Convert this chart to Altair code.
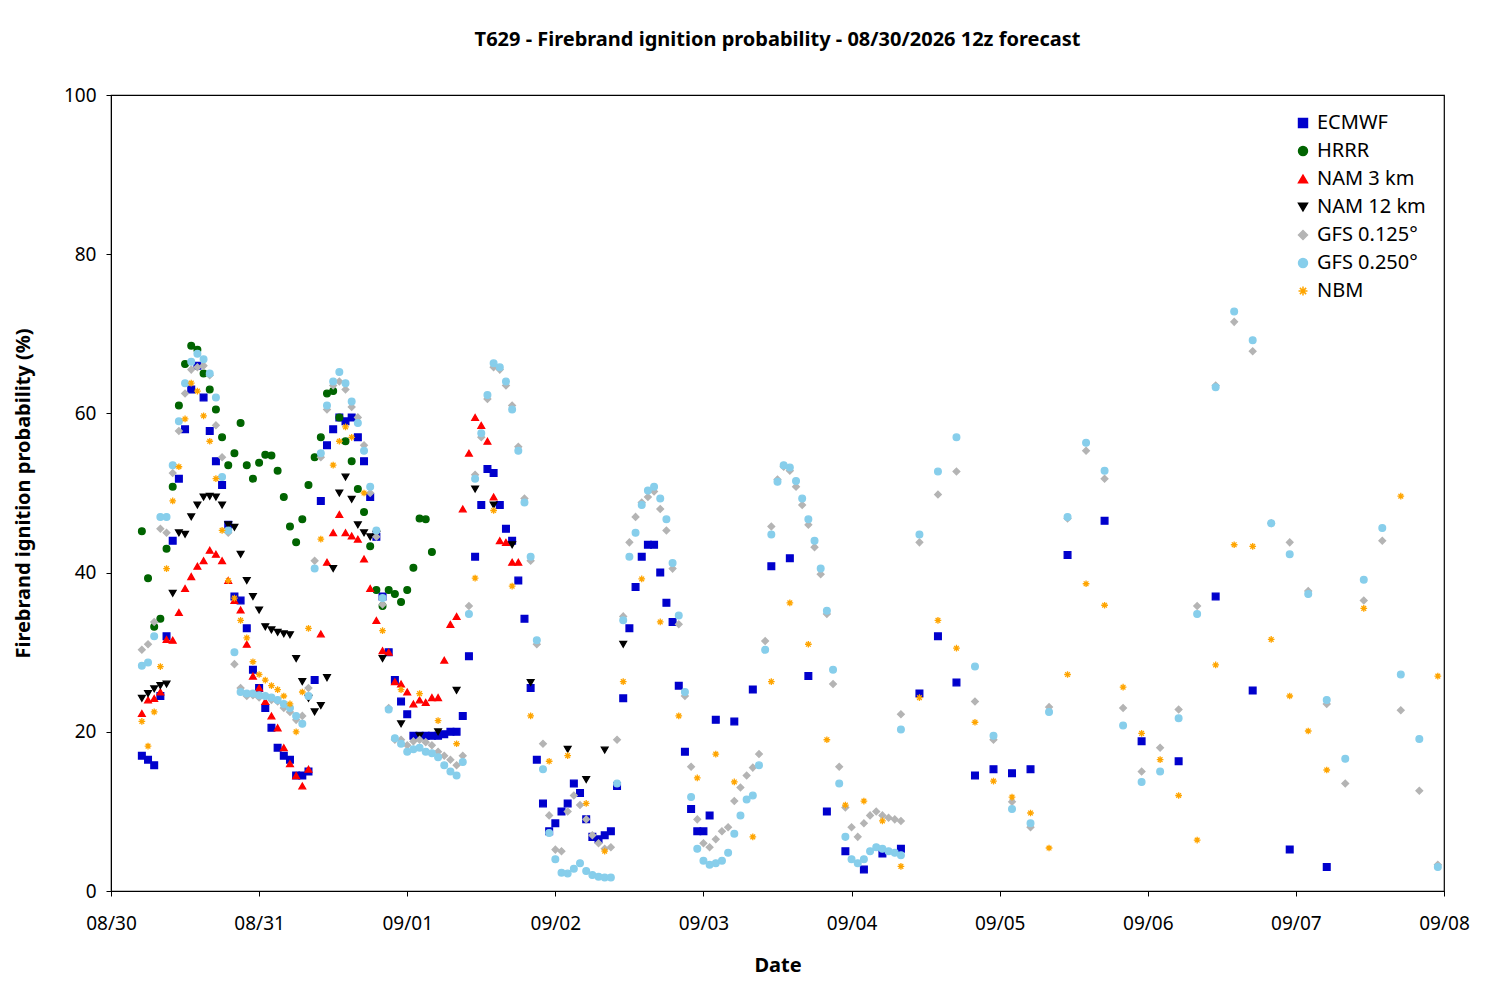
import altair as alt
import pandas as pd

# hours after 08/30 00z, values in %
ecmwf_h = list(range(5, 98)) + [98, 101, 104, 107, 110, 113, 116, 119, 122, 125, 128, 131, 134, 137, 140, 143, 146, 149,
                                155, 161, 167, 173, 179, 185, 191, 197]
ecmwf_v = [17, 16.5, 15.8, 24.5, 32, 44, 51.8, 58, 63, 66, 62, 57.8, 54, 51, 46, 37, 36.5, 33, 27.8, 25.5, 23, 20.5,
           18, 17, 16.5, 14.5, 14.5, 15, 26.5,
           49, 56, 58, 59.5, 59, 59.5, 57, 54, 49.5, 44.5, 37, 30, 26.5, 23.8, 22.2, 19.5, 19.5, 19.5, 19.5, 19.5,
           19.7, 20, 20, 22, 29.5, 42, 48.5, 53, 52.5, 48.5, 45.5, 44, 39, 34.2,
           25.5, 16.5, 11, 7.5, 8.5, 10, 11, 13.5, 12.3, 9, 6.8, 6.5, 7, 7.5,
           13.2, 24.2, 33, 38.2, 42, 43.5, 43.5, 40, 36.2, 33.8, 25.8, 17.5, 10.3, 7.5, 7.5, 9.5,
           21.5, 21.3, 25.3, 40.8, 41.8, 27, 10, 5, 2.7, 4.7, 5.3, 24.8, 32, 26.2, 14.5, 15.3, 14.8, 15.3,
           42.2, 46.5, 18.8, 16.3, 37, 25.2, 5.2, 3]

hrrr_h = list(range(5, 53))
hrrr_v = [45.2, 39.3, 33.2, 34.2, 43, 50.8, 61, 66.2, 68.5, 68, 65, 63, 60.5, 57, 53.5, 55, 58.8, 53.5, 51.8, 53.8,
          54.8, 54.7, 52.8, 49.5, 45.8, 43.8, 46.7, 51, 54.5, 57, 62.5, 62.8, 59.5, 56.5, 54, 50.5, 47.6, 43.3,
          37.8, 35.8, 37.8, 37.3, 36.3, 37.8, 40.6, 46.8, 46.7, 42.6]

nam3_h = list(range(5, 33)) + list(range(34, 67))
nam3_v = [22.3, 24, 24.2, 25, 31.6, 31.5, 35, 38, 39.5, 40.8, 41.5, 42.8, 42.3, 41.5, 39, 36.5, 35.3, 31, 27, 25.5,
          23.8, 22, 20.5, 18, 16, 14.5, 13.2, 15.3,
          32.3, 41.3, 45, 47.3, 45, 44.6, 44.2, 41.7, 38, 34, 30.2, 30, 26.3, 26, 25, 23.5, 24, 23.7, 24.3, 24.3,
          29, 33.5, 34.5, 48, 55, 59.5, 58.5, 56.5, 49.5, 44, 43.8, 41.3, 41.3]

nam12_h = list(range(5, 36)) + list(range(36, 44)) + [44, 47, 50, 53, 56, 59, 62, 65, 68, 74, 77, 80, 83]
nam12_v = [24.2, 24.8, 25.4, 25.8, 26, 37.4, 45, 44.8, 47, 48.5, 49.5, 49.6, 49.5, 48.5, 46, 45.7, 42.3, 39, 37,
           35.3, 33.2, 32.8, 32.5, 32.3, 32.2, 29.2, 26.3, 24.2, 22.5, 23.3, 26.8,
           40.5, 50, 52, 49.2, 46, 45, 44.5, 44.8,
           29.2, 21, 19.5, 20, 25.2, 50.5, 48.5, 43.5, 26.2, 17.8, 14, 17.7, 31]

gfs25_late_h = [128, 131, 134, 137, 140, 143, 146, 149, 152, 155, 158, 161, 164, 167, 170, 173, 176, 179, 182, 185,
                188, 191, 194, 197, 200, 203, 206, 209, 212, 215]
gfs25_hourly = [28.3, 28.7, 32, 47, 47, 53.5, 59, 63.8, 66.5, 67.5, 66.8, 65, 62, 52, 45.3, 30, 25, 24.8, 24.8, 24.6,
                24.5, 24.3, 24, 23.5, 23, 22, 21, 24.5, 40.5,
                55, 61, 64, 65.2, 63.8, 61.5, 58.8, 55.3, 50.8, 45.3, 36.8, 22.8, 19.2, 18.5, 17.5, 17.8, 18, 17.5,
                17.3, 16.8, 15.8, 15, 14.5, 16.2, 34.8, 51.8, 57.5, 62.3, 66.3, 65.8, 64, 60.5, 55.3, 48.8, 42, 31.5,
                15.3, 7.3, 4, 2.3, 2.2, 2.8, 3.5, 2.5, 2, 1.8, 1.7, 1.7, 13.5, 34, 42, 45, 48.5, 50.3, 50.8, 49.3,
                46.7, 41.2, 34.6, 25, 11.8, 5.3, 3.8, 3.3, 3.5, 3.8, 4.8, 7.2, 9.5, 11.5, 12, 15.8, 30.3, 44.8, 51.4,
                53.5, 53.2, 51.5, 49.3, 46.7, 44, 40.5, 35.2, 27.8, 13.5, 6.8, 4, 3.5, 4, 5, 5.5, 5.3, 5, 4.8, 4.5]
gfs25_late = [20.3, 44.8, 52.7, 57, 28.2, 19.5, 10.3, 8.5, 22.5, 47, 56.3, 52.8, 20.8, 13.7, 15, 21.7, 34.8, 63.3,
              72.8, 69.2, 46.2, 42.3, 37.3, 24, 16.6, 39.1, 45.6, 27.2, 19.1, 3]
gfs125_hourly = [30.3, 31, 33.8, 45.5, 45, 52.5, 57.8, 62.5, 65.5, 65.8, 66, 64.8, 58.5, 54.5, 45, 28.5, 25.5, 24.5,
                 24.6, 24.3, 24.5, 24, 23.8, 23, 22.5, 21.5, 22, 25.5, 41.5,
                 54.5, 60.5, 63.5, 64, 63, 60.8, 59.5, 56, 50, 44.5, 36, 23, 19, 19, 18.3, 18.8, 19, 18.7, 18.3,
                 17.5, 17, 16.5, 15.8, 17, 35.8, 52.3, 57, 61.8, 65.8, 65.5, 63.5, 61, 55.8, 49.3, 41.5, 31,
                 18.5, 9.5, 5.2, 5, 10, 12, 10.8, 9, 7, 6, 5.3, 5.5, 19, 34.5, 43.8, 47, 48.8, 49.5, 50.2, 48,
                 45.3, 40.5, 33.5, 24.5, 15.6, 9, 6, 5.5, 6.5, 7.5, 8, 11.3, 13, 14.5, 15.5, 17.2, 31.4, 45.8, 51.7,
                 53.3, 52.8, 50.8, 48.5, 46, 43.2, 39.8, 34.8, 26, 15.6, 10.5, 8, 6.8, 8.5, 9.5, 10, 9.5, 9.2, 9, 8.8]
gfs125_late = [22.2, 43.8, 49.8, 52.7, 23.8, 19, 11.2, 8, 23.1, 46.8, 55.3, 51.8, 23, 15, 18, 22.8, 35.8, 63.5,
               71.5, 67.8, 46.2, 43.8, 37.7, 23.5, 13.5, 36.5, 44, 22.7, 12.6, 3.3]

nbm_h = list(range(5, 33)) + [34, 36, 37, 38, 39, 41] + list(range(44, 198, 3)) + [203, 209, 215]
nbm_v = [21.3, 18.2, 22.5, 28.2, 40.5, 49, 53.3, 59.3, 63.8, 62.8, 59.7, 56.5, 51.8, 45.3, 39, 36.8, 34, 31.8, 28.8,
         27.2, 26.5, 25.8, 25.3, 24.5, 23.5, 20, 25, 33,
         44.2, 53.5, 56.5, 58.3, 57, 50,
         32.7, 25.3, 24.8, 21.4, 18.5, 39.3, 47.8, 38.3, 22, 16.3, 17, 11, 5, 26.3, 39.2, 33.8, 22, 14.2, 17.2,
         13.7, 6.8, 26.3, 36.2, 31, 19, 10.8, 11.3, 8.8, 3.1, 24.3, 34, 30.5, 21.2, 13.8, 11.8, 9.8, 5.4, 27.2,
         38.6, 35.9, 25.6, 19.8, 16.5, 12, 6.4, 28.4, 43.5, 43.3, 31.6, 24.5, 20.1, 15.2,
         35.5, 49.6, 27]

models = ["ECMWF", "HRRR", "NAM 3 km", "NAM 12 km", "GFS 0.125°", "GFS 0.250°", "NBM"]
colors = ["#0000cc", "#006400", "#ff0000", "#000000", "#b4b4b4", "#87ceeb", "#ffa500"]
star = "M-1,0L1,0M0,-1L0,1M-0.7,-0.7L0.7,0.7M-0.7,0.7L0.7,-0.7"
shapes = ["square", "circle", "triangle-up", "triangle-down", "diamond", "circle", star]

series = [
    ("ECMWF", ecmwf_h, ecmwf_v),
    ("HRRR", hrrr_h, hrrr_v),
    ("NAM 3 km", nam3_h, nam3_v),
    ("NAM 12 km", nam12_h, nam12_v),
    ("GFS 0.125°", list(range(5, 5 + len(gfs125_hourly))) + gfs25_late_h, gfs125_hourly + gfs125_late),
    ("GFS 0.250°", list(range(5, 5 + len(gfs25_hourly))) + gfs25_late_h, gfs25_hourly + gfs25_late),
    ("NBM", nbm_h, nbm_v),
]
rows = []
for name, hs, vs in series:
    for h, v in zip(hs, vs):
        rows.append({"Model": name, "time": pd.Timestamp("2026-08-30") + pd.Timedelta(hours=h), "p": v})
df = pd.DataFrame(rows)

font = "Noto Sans"
chart = alt.Chart(df).mark_point(filled=True, size=45, strokeWidth=1.3, opacity=1).encode(
    x=alt.X("time:T", title="Date",
            scale=alt.Scale(domain=["2026-08-30T00:00:00", "2026-09-08T00:00:00"]),
            axis=alt.Axis(format="%m/%d", tickCount={"interval": "day", "step": 1}, grid=False,
                          labelFontSize=19, titleFontSize=20, labelFlush=False, labelPadding=18,
                          titlePadding=22)),
    y=alt.Y("p:Q", title="Firebrand ignition probability (%)",
            scale=alt.Scale(domain=[0, 100]),
            axis=alt.Axis(values=[0, 20, 40, 60, 80, 100], grid=False, labelFontSize=19, titleFontSize=20,
                          labelPadding=10, titlePadding=30)),
    color=alt.Color("Model:N", scale=alt.Scale(domain=models, range=colors), title=None,
                    legend=alt.Legend(orient="top-right", labelFontSize=20, symbolSize=80, rowPadding=8,
                                      offset=18)),
    stroke=alt.Stroke("Model:N", scale=alt.Scale(domain=models, range=colors), legend=None),
    shape=alt.Shape("Model:N", scale=alt.Scale(domain=models, range=shapes), title=None),
).properties(
    width=1333, height=796,
    padding={"left": 5, "top": 22, "right": 5, "bottom": 5},
    title=alt.Title("T629 - Firebrand ignition probability - 08/30/2026 12z forecast", fontSize=20,
                    fontWeight="bold", offset=36),
).configure(font=font).configure_axis(
    domainColor="black", tickColor="black", labelColor="black", titleColor="black", titleFontWeight="bold"
).configure_view(stroke="black", strokeWidth=1.2)

chart.save("out.html", embed_options={"renderer": "svg", "actions": False})
